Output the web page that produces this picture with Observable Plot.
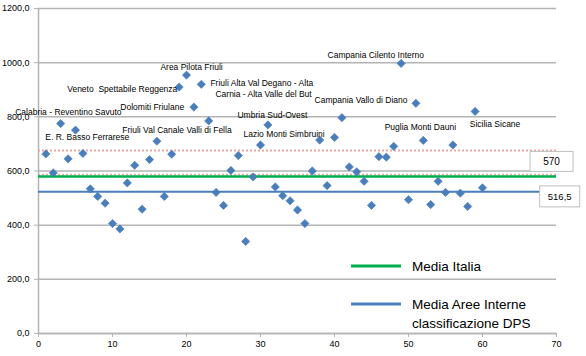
<!DOCTYPE html>
<html><head><meta charset="utf-8">
<script src="https://cdn.jsdelivr.net/npm/d3@7"></script>
<script src="https://cdn.jsdelivr.net/npm/@observablehq/plot@0.6"></script>
<style>body{margin:0;background:#fff}#chart{width:586px;height:356px}</style>
</head><body><div id="chart"></div>
<script>
const areaIndex = [1,2,3,4,5,6,7,8,9,10,11,12,13,14,15,16,17,18,19,20,21,22,23,24,25,26,27,28,29,30,31,32,33,34,35,36,37,38,39,40,41,42,43,44,45,46,47,48,49,50,51,52,53,54,55,56,57,58,59,60];
const areaValues = [663,593,775,645,751,665,534,506,481,406,386,556,621,459,642,710,506,662,910,954,836,920,785,521,473,602,657,340,578,696,770,541,509,490,456,406,600,714,546,724,797,615,597,562,473,653,651,691,997,494,850,713,476,562,521,696,518,469,820,538];
const labelNames = ["Calabria - Reventino Savuto","E. R. Basso Ferrarese","Veneto  Spettabile Reggenza","Area Pilota Friuli","Dolomiti Friulane","Friuli Val Canale Valli di Fella","Friuli Alta Val Degano - Alta","Carnia - Alta Valle del But","Umbria Sud-Ovest","Lazio Monti Simbruini","Campania Cilento Interno","Campania Vallo di Diano","Puglia Monti Dauni","Sicilia Sicane"];
const labelX = [-3.15,0.91,3.88,16.47,11.06,11.33,23.23,23.91,26.89,27.70,39.07,37.31,46.78,58.28];
const labelY = [818,726,902,983,836,751,924,884,807,737,1028,862,762,773];
const mediaItalia = 580;
const mediaItaliaLabel = "570";
const mediaAree = 523;
const mediaAreeLabel = "516,5";
const pinkLines = [586, 676];
const yTicks = [0,200,400,600,800,1000,1200];
const xTicks = [0,10,20,30,40,50,60,70];
const legendNames = ["Media Italia", "Media Aree Interne", "classificazione DPS"];

const points = areaIndex.map((x,i)=>({x, y: areaValues[i]}));
const labels = labelNames.map((name,i)=>({name, x: labelX[i], y: labelY[i]}));
const FONT = "'Liberation Sans',Arial,sans-serif";
const GRID = "#b4b4b4";
const BLUE = "#4a7ebb";
const GREEN = "#00b050";

const chart = Plot.plot({
  width: 586, height: 356,
  marginLeft: 38, marginRight: 30, marginTop: 8, marginBottom: 23,
  x: {domain: [0,70]},
  y: {domain: [0,1200]},
  style: {fontFamily: FONT, fontSize: "9px", color: "#000", background: "#fff"},
  marks: [
    Plot.gridY(yTicks, {stroke: GRID, strokeOpacity: 1, strokeWidth: 1.5}),
    Plot.axisY(yTicks, {tickFormat: d => d.toFixed(1).replace(".", ","), tickSize: 4, tickPadding: 5, stroke: GRID, fontSize: 9, label: null}),
    Plot.axisX(xTicks, {tickSize: 4, tickPadding: 3, stroke: GRID, fontSize: 9, label: null}),
    Plot.ruleX([0], {stroke: GRID, strokeWidth: 1.5}),
    Plot.ruleY([0], {stroke: GRID, strokeWidth: 1.5}),
    Plot.ruleY(pinkLines, {stroke: "#f2a3a3", strokeWidth: 2, strokeDasharray: "2,2"}),
    Plot.ruleY([mediaItalia], {stroke: GREEN, strokeWidth: 2.5}),
    Plot.ruleY([mediaAree], {stroke: BLUE, strokeWidth: 2}),
    Plot.dot(points, {x: "x", y: "y", symbol: "square", rotate: 45, r: 3.3, fill: BLUE, stroke: BLUE, strokeWidth: 0.6}),
    Plot.text(labels, {x: "x", y: "y", text: "name", textAnchor: "start", fontSize: 8.5, fill: "#000"})
  ]
});
document.getElementById("chart").appendChild(chart);

const svg = d3.select(chart);
const sx = chart.scale("x").apply, sy = chart.scale("y").apply;
function box(cx, cy, w, h, txt, fs){
  svg.append("rect").attr("x", cx - w/2).attr("y", cy - h/2).attr("width", w).attr("height", h)
    .attr("fill", "#fff").attr("stroke", "#bfbfbf").attr("stroke-width", 1);
  svg.append("text").attr("x", cx).attr("y", cy).attr("text-anchor", "middle").attr("dominant-baseline", "central")
    .attr("font-family", FONT).attr("font-size", fs).attr("fill", "#000").text(txt);
}
box(sx(69.4), sy(mediaItalia) - 14.5, 43, 20, mediaItaliaLabel, 10);
box(sx(70.5), sy(mediaAree) + 5, 40, 21, mediaAreeLabel, 9.5);
const lg = svg.append("g").attr("font-family", FONT).attr("font-size", 13.5).attr("fill", "#000").attr("text-anchor", "start");
lg.append("line").attr("x1", 351).attr("x2", 401).attr("y1", 266).attr("y2", 266).attr("stroke", GREEN).attr("stroke-width", 3);
lg.append("text").attr("x", 412).attr("y", 266).attr("text-anchor", "start").attr("dominant-baseline", "central").text(legendNames[0]);
lg.append("line").attr("x1", 351).attr("x2", 401).attr("y1", 304).attr("y2", 304).attr("stroke", BLUE).attr("stroke-width", 3);
lg.append("text").attr("x", 412).attr("y", 304).attr("text-anchor", "start").attr("dominant-baseline", "central").text(legendNames[1]);
lg.append("text").attr("x", 412).attr("y", 323).attr("text-anchor", "start").attr("dominant-baseline", "central").text(legendNames[2]);
</script></body></html>
